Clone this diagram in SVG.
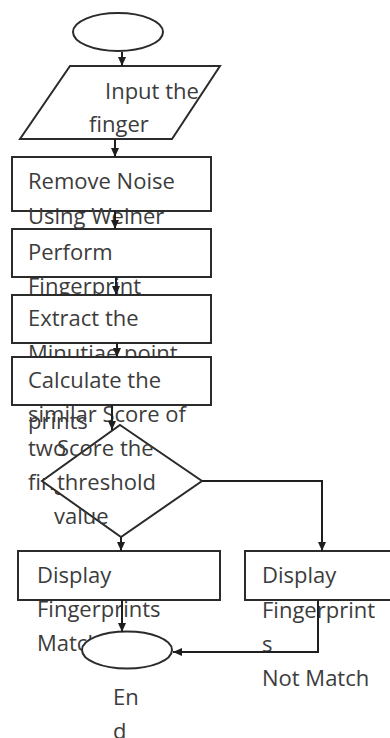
<svg xmlns="http://www.w3.org/2000/svg" width="390" height="738" viewBox="0 0 390 738">
<defs>
<marker id="ah" markerWidth="10" markerHeight="10" refX="9" refY="5" orient="auto" markerUnits="userSpaceOnUse">
<path d="M0,1 L9,5 L0,9 Z" fill="#1e1e1e"/>
</marker>
<style>
.s{fill:#fff;stroke:#2b2b2b;stroke-width:2}
.t{font-family:"Open Sans","Liberation Sans",sans-serif;font-size:22px;fill:#3c3c3c}
.c{fill:none;stroke:#1e1e1e;stroke-width:2}
</style>
</defs>
<rect width="390" height="738" fill="#fff"/>
<g id="start"><ellipse class="s" cx="118" cy="32" rx="45" ry="19"/></g>
<g id="input">
<polygon class="s" points="70,66 220,66 172,139 20,139"/>
<text class="t" x="105" y="99">Input the</text>
<text class="t" x="89" y="132">finger</text>
</g>
<g id="remove-noise">
<rect class="s" x="12" y="157" width="199" height="54"/>
<text class="t" x="28" y="189">Remove Noise</text>
<text class="t" x="28" y="224">Using Weiner</text>
</g>
<g id="perform">
<rect class="s" x="12" y="229" width="199" height="48"/>
<text class="t" x="28" y="260">Perform</text>
<text class="t" x="28" y="294">Fingerprint</text>
</g>
<g id="extract">
<rect class="s" x="12" y="295" width="199" height="48"/>
<text class="t" x="28" y="326">Extract the</text>
<text class="t" x="28" y="361">Minutiae point</text>
<text class="t" x="28" y="429">prints</text>
</g>
<g id="calculate">
<rect class="s" x="12" y="357" width="199" height="48"/>
<text class="t" x="28" y="388">Calculate the</text>
<text class="t" x="28" y="422">similar Score of</text>
<text class="t" x="28" y="456">two</text>
<text class="t" x="28" y="490">fingerprints</text>
</g>
<g id="decision">
<polygon class="s" points="120,425 202,481 121,537 42,481"/>
<text class="t" x="57" y="456">Score the</text>
<text class="t" x="57" y="490">threshold</text>
<text class="t" x="54" y="524">value</text>
</g>
<g id="match">
<rect class="s" x="18" y="551" width="202" height="49"/>
<text class="t" x="37" y="583">Display</text>
<text class="t" x="37" y="617">Fingerprints</text>
<text class="t" x="37" y="651">Match</text>
</g>
<g id="not-match">
<rect class="s" x="245" y="551" width="160" height="49"/>
<text class="t" x="262" y="583">Display</text>
<text class="t" x="262" y="618">Fingerprint</text>
<text class="t" x="262" y="652">s</text>
<text class="t" x="262" y="686">Not Match</text>
</g>
<g id="end">
<ellipse class="s" cx="127" cy="650" rx="45" ry="18.5"/>
<text class="t" x="113" y="705">En</text>
<text class="t" x="113" y="739">d</text>
</g>
<g id="connectors">
<path class="c" d="M122,52 V66" marker-end="url(#ah)"/>
<path class="c" d="M115,139 V157" marker-end="url(#ah)"/>
<path class="c" d="M115,211 V229" marker-end="url(#ah)"/>
<path class="c" d="M116,277 V295" marker-end="url(#ah)"/>
<path class="c" d="M117,343 V357" marker-end="url(#ah)"/>
<path class="c" d="M112,405 V430" marker-end="url(#ah)"/>
<path class="c" d="M121,537 V551" marker-end="url(#ah)"/>
<path class="c" d="M202,481 H322 V551" marker-end="url(#ah)"/>
<path class="c" d="M122,600 V632" marker-end="url(#ah)"/>
<path class="c" d="M318,600 V652 H173" marker-end="url(#ah)"/>
</g>
</svg>
